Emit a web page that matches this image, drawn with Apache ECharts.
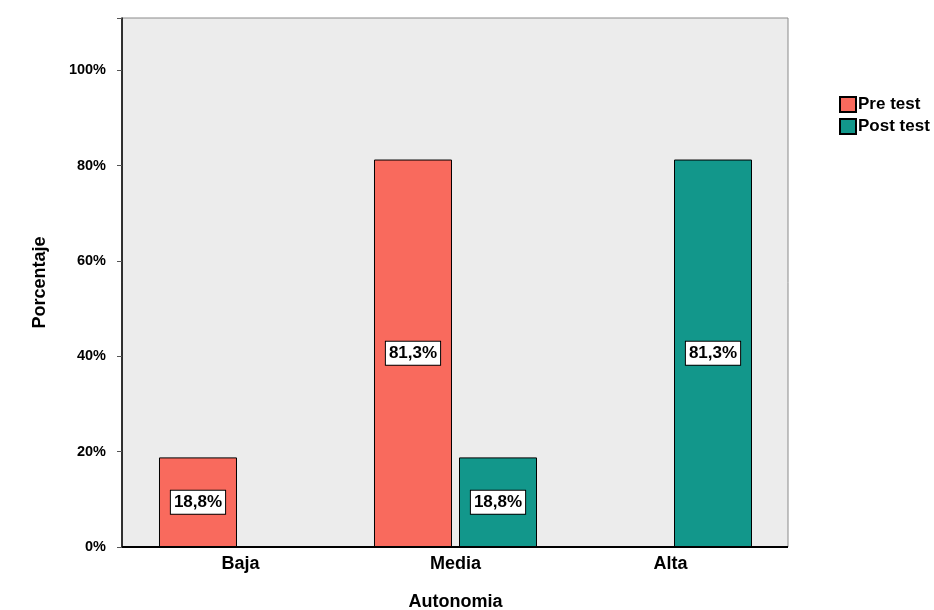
<!DOCTYPE html>
<html><head><meta charset="utf-8">
<script src="https://cdn.jsdelivr.net/npm/echarts@6/dist/echarts.min.js"></script>
<style>html,body{margin:0;padding:0;background:#fff}#c{width:934px;height:610px}</style>
</head><body><div id="c"></div>
<script>
var categories = ['Baja', 'Media', 'Alta'];
var preTest = [18.8, 81.3, null];
var postTest = [null, 18.8, 81.3];
var seriesNames = ['Pre test', 'Post test'];
var yTicks = [0, 20, 40, 60, 80, 100];

var FONT = '"Liberation Sans", Arial, sans-serif';
var chart = echarts.init(document.getElementById('c'));
function lbl() {
  return {
    show: true, position: 'inside',
    formatter: function (p) { return p.value == null ? '' : String(p.value).replace('.', ',') + '%'; },
    backgroundColor: '#fff', borderColor: '#000', borderWidth: 1, padding: [4, 3, 2, 3],
    color: '#000', fontWeight: 'bold', fontSize: 17, fontFamily: FONT
  };
}
chart.setOption({
  animation: false,
  backgroundColor: '#fff',
  graphic: [
    { type: 'rect', z: -10, shape: { x: 122, y: 18, width: 666, height: 529 },
      style: { fill: '#ececec', stroke: '#8a8a8a', lineWidth: 1 } },
    { type: 'line', z: 10, shape: { x1: 122, y1: 547, x2: 788, y2: 547 },
      style: { stroke: '#000', lineWidth: 2 } }
  ],
  grid: { left: 133, right: 156, top: 18, bottom: 63, containLabel: false, outerBoundsMode: 'none' },
  legend: {
    orient: 'vertical', left: 834, top: 91, itemWidth: 16, itemHeight: 15, itemGap: 5,
    icon: 'rect', data: seriesNames,
    textStyle: { color: '#000', fontWeight: 'bold', fontSize: 17, fontFamily: FONT, padding: [0, 0, 0, -3] }
  },
  xAxis: {
    type: 'category', data: categories,
    name: 'Autonomia', nameLocation: 'middle', nameGap: 46,
    nameTextStyle: { color: '#000', fontWeight: 'bold', fontSize: 18, fontFamily: FONT },
    axisLine: { show: false }, axisTick: { show: false },
    axisLabel: { color: '#000', fontWeight: 'bold', fontSize: 18, fontFamily: FONT, margin: 8 }
  },
  yAxis: {
    type: 'value', min: 0, max: 111, interval: 20, offset: 11,
    name: 'Porcentaje', nameLocation: 'middle', nameGap: 73, nameRotate: 90,
    nameTextStyle: { color: '#000', fontWeight: 'bold', fontSize: 18, fontFamily: FONT },
    axisLine: { show: true, lineStyle: { color: '#000', width: 1.5 } },
    axisTick: { show: true, length: 5, lineStyle: { color: '#555' } },
    splitLine: { show: false },
    axisLabel: {
      color: '#000', fontWeight: 'bold', fontSize: 14.5, fontFamily: FONT, margin: 16,
      formatter: function (v) { return yTicks.indexOf(v) >= 0 ? v + '%' : ''; }
    }
  },
  series: [
    { name: seriesNames[0], type: 'bar', data: preTest, barWidth: 78, barGap: '9%',
      itemStyle: { color: '#f96a5d', borderColor: '#000', borderWidth: 1 }, label: lbl() },
    { name: seriesNames[1], type: 'bar', data: postTest, barWidth: 78, barGap: '9%',
      itemStyle: { color: '#12978b', borderColor: '#000', borderWidth: 1 }, label: lbl() }
  ]
});
</script></body></html>
